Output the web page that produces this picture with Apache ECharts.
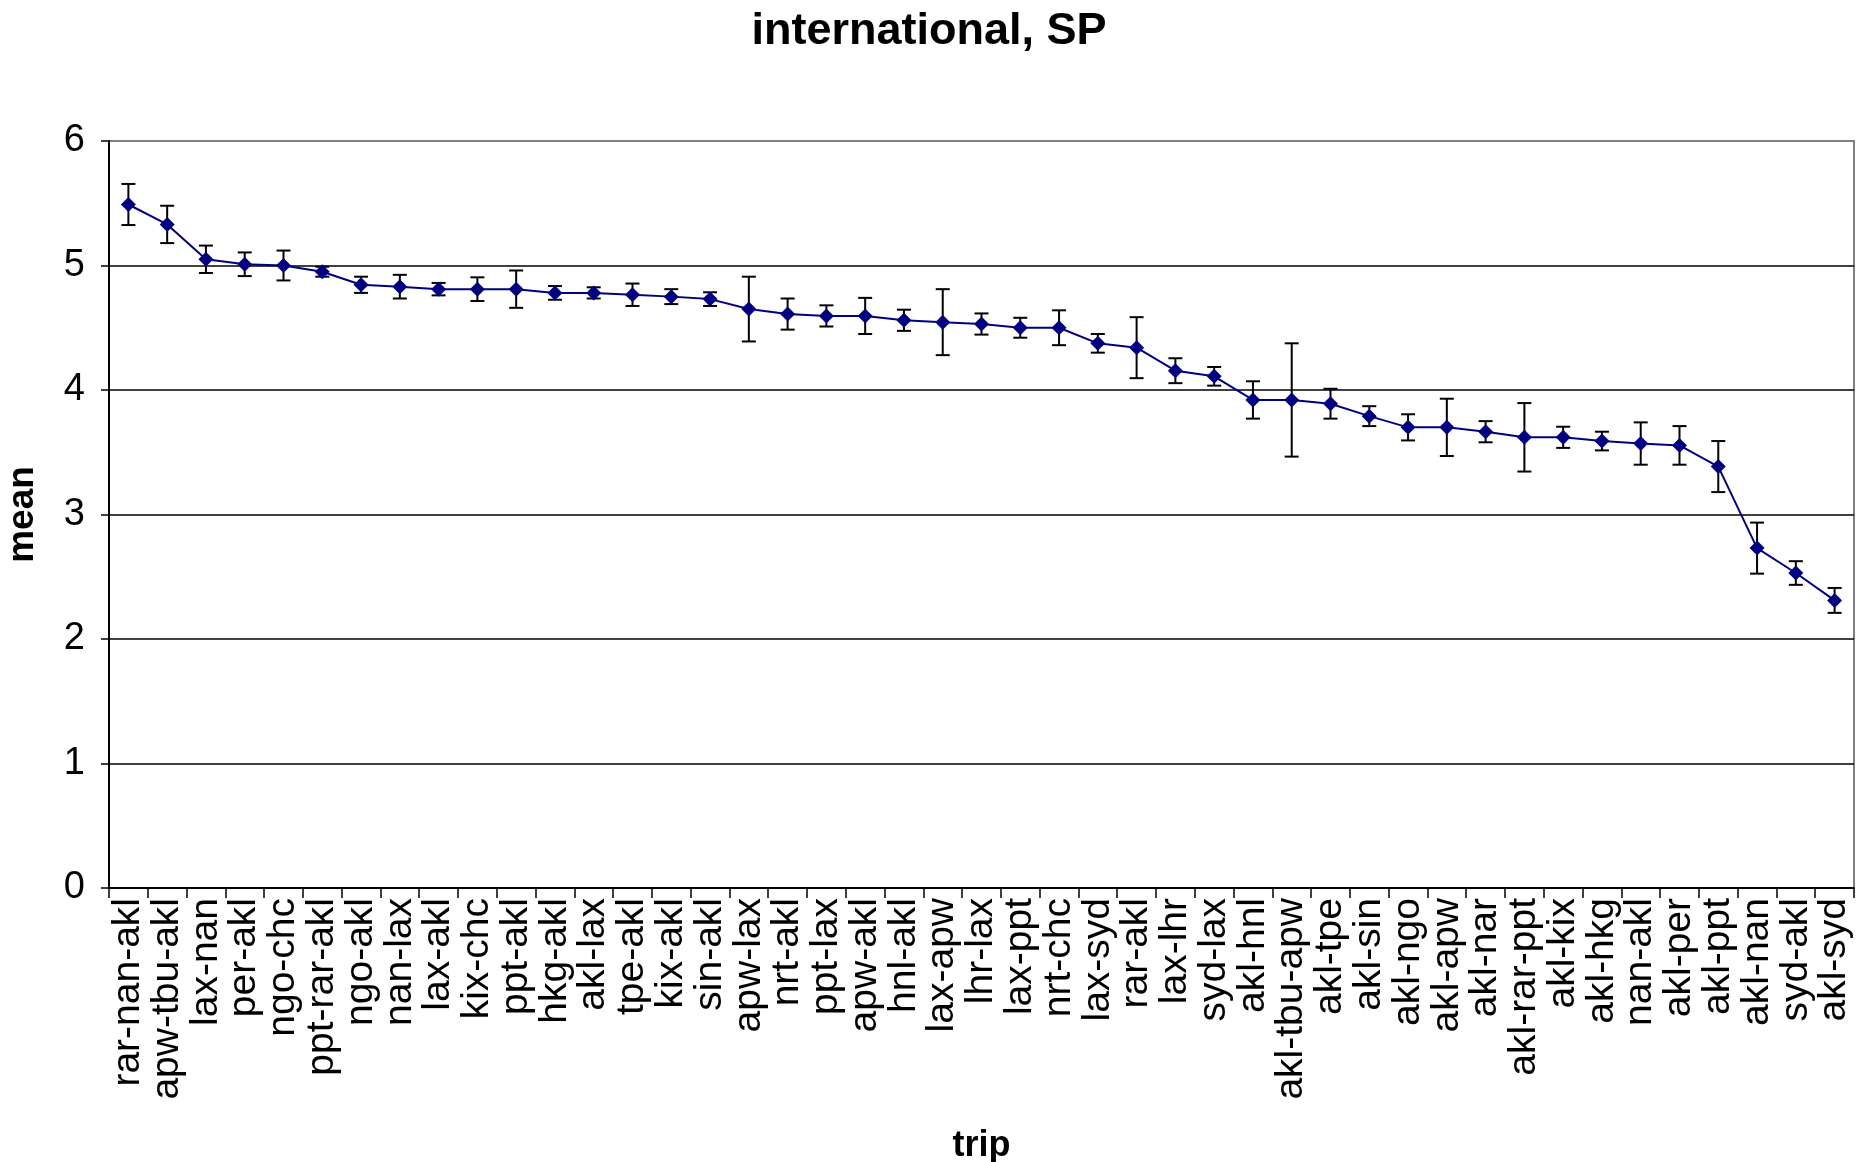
<!DOCTYPE html>
<html>
<head>
<meta charset="utf-8">
<script src="https://cdn.jsdelivr.net/npm/echarts@6/dist/echarts.min.js"></script>
<style>
html,body{margin:0;padding:0;background:#fff;}
#chart{width:1858px;height:1162px;}
</style>
</head>
<body>
<div id="chart"></div>
<script>
var categories = ["rar-nan-akl","apw-tbu-akl","lax-nan","per-akl","ngo-chc","ppt-rar-akl","ngo-akl","nan-lax","lax-akl","kix-chc","ppt-akl","hkg-akl","akl-lax","tpe-akl","kix-akl","sin-akl","apw-lax","nrt-akl","ppt-lax","apw-akl","hnl-akl","lax-apw","lhr-lax","lax-ppt","nrt-chc","lax-syd","rar-akl","lax-lhr","syd-lax","akl-hnl","akl-tbu-apw","akl-tpe","akl-sin","akl-ngo","akl-apw","akl-nar","akl-rar-ppt","akl-kix","akl-hkg","nan-akl","akl-per","akl-ppt","akl-nan","syd-akl","akl-syd"];
var means = [5.49,5.33,5.05,5.01,5.00,4.95,4.845,4.83,4.81,4.81,4.81,4.78,4.78,4.765,4.75,4.73,4.65,4.61,4.595,4.595,4.56,4.545,4.53,4.50,4.50,4.375,4.34,4.155,4.11,3.92,3.92,3.89,3.79,3.70,3.70,3.665,3.62,3.62,3.59,3.57,3.555,3.385,2.73,2.53,2.31];
var errors = [0.165,0.15,0.11,0.095,0.12,0.04,0.065,0.095,0.05,0.095,0.15,0.055,0.045,0.09,0.06,0.055,0.26,0.125,0.085,0.145,0.085,0.265,0.085,0.08,0.14,0.075,0.245,0.1,0.075,0.15,0.455,0.12,0.08,0.105,0.23,0.085,0.275,0.085,0.075,0.17,0.155,0.205,0.205,0.095,0.1];
var yTicks = [0,1,2,3,4,5,6];

var errData = means.map(function(m,i){ return [i, m - errors[i], m + errors[i]]; });

var chart = echarts.init(document.getElementById('chart'), null, {renderer:'canvas'});
var FONT = '"Liberation Sans", Arial, sans-serif';
chart.setOption({
  animation:false,
  backgroundColor:'#ffffff',
  title:{
    text:'international, SP',
    left:'center', top:4,
    textStyle:{fontFamily:FONT,fontSize:45,fontWeight:'bold',color:'#000'}
  },
  grid:{left:109,right:4,top:141,bottom:274,containLabel:false,outerBoundsMode:'none',show:true,borderColor:'#808080',borderWidth:2,backgroundColor:'#fff'},
  xAxis:{
    type:'category',
    data:categories,
    boundaryGap:true,
    name:'trip',
    nameLocation:'middle',
    nameGap:240,
    nameTextStyle:{fontFamily:FONT,fontSize:36,fontWeight:'bold',color:'#000'},
    axisLine:{show:true,lineStyle:{color:'#000',width:2}},
    axisTick:{show:true,interval:0,length:10,lineStyle:{color:'#000',width:1.5}},
    axisLabel:{interval:0,rotate:90,margin:10,fontFamily:FONT,fontSize:39,color:'#000'},
    splitLine:{show:false}
  },
  yAxis:{
    type:'value',
    min:0,max:6,interval:1,
    name:'mean',
    nameLocation:'middle',
    nameGap:68,
    nameRotate:90,
    nameTextStyle:{fontFamily:FONT,fontSize:37,fontWeight:'bold',color:'#000'},
    axisLine:{show:true,lineStyle:{color:'#000',width:2}},
    axisTick:{show:true,length:8,lineStyle:{color:'#000',width:1.5}},
    axisLabel:{margin:24,fontFamily:FONT,fontSize:38,color:'#000',
      formatter:function(v){ return yTicks.indexOf(v)>=0 ? String(v) : ''; }},
    splitLine:{show:true,lineStyle:{color:['#000','#000','#000','#000','#000','#000','#808080'],width:1.5}}
  },
  series:[
    {
      type:'custom',
      z:2,
      data:errData,
      renderItem:function(params, api){
        var x = api.value(0);
        var lo = api.coord([x, api.value(1)]);
        var hi = api.coord([x, api.value(2)]);
        var cw = 7;
        var st = {stroke:'#000',lineWidth:2};
        return {type:'group',children:[
          {type:'line',shape:{x1:lo[0],y1:lo[1],x2:hi[0],y2:hi[1]},style:st},
          {type:'line',shape:{x1:lo[0]-cw,y1:lo[1],x2:lo[0]+cw,y2:lo[1]},style:st},
          {type:'line',shape:{x1:hi[0]-cw,y1:hi[1],x2:hi[0]+cw,y2:hi[1]},style:st}
        ]};
      }
    },
    {
      type:'line',
      z:3,
      data:means,
      symbol:'diamond',
      symbolSize:15,
      lineStyle:{color:'#000080',width:2},
      itemStyle:{color:'#000080'}
    }
  ]
});
</script>
</body>
</html>
